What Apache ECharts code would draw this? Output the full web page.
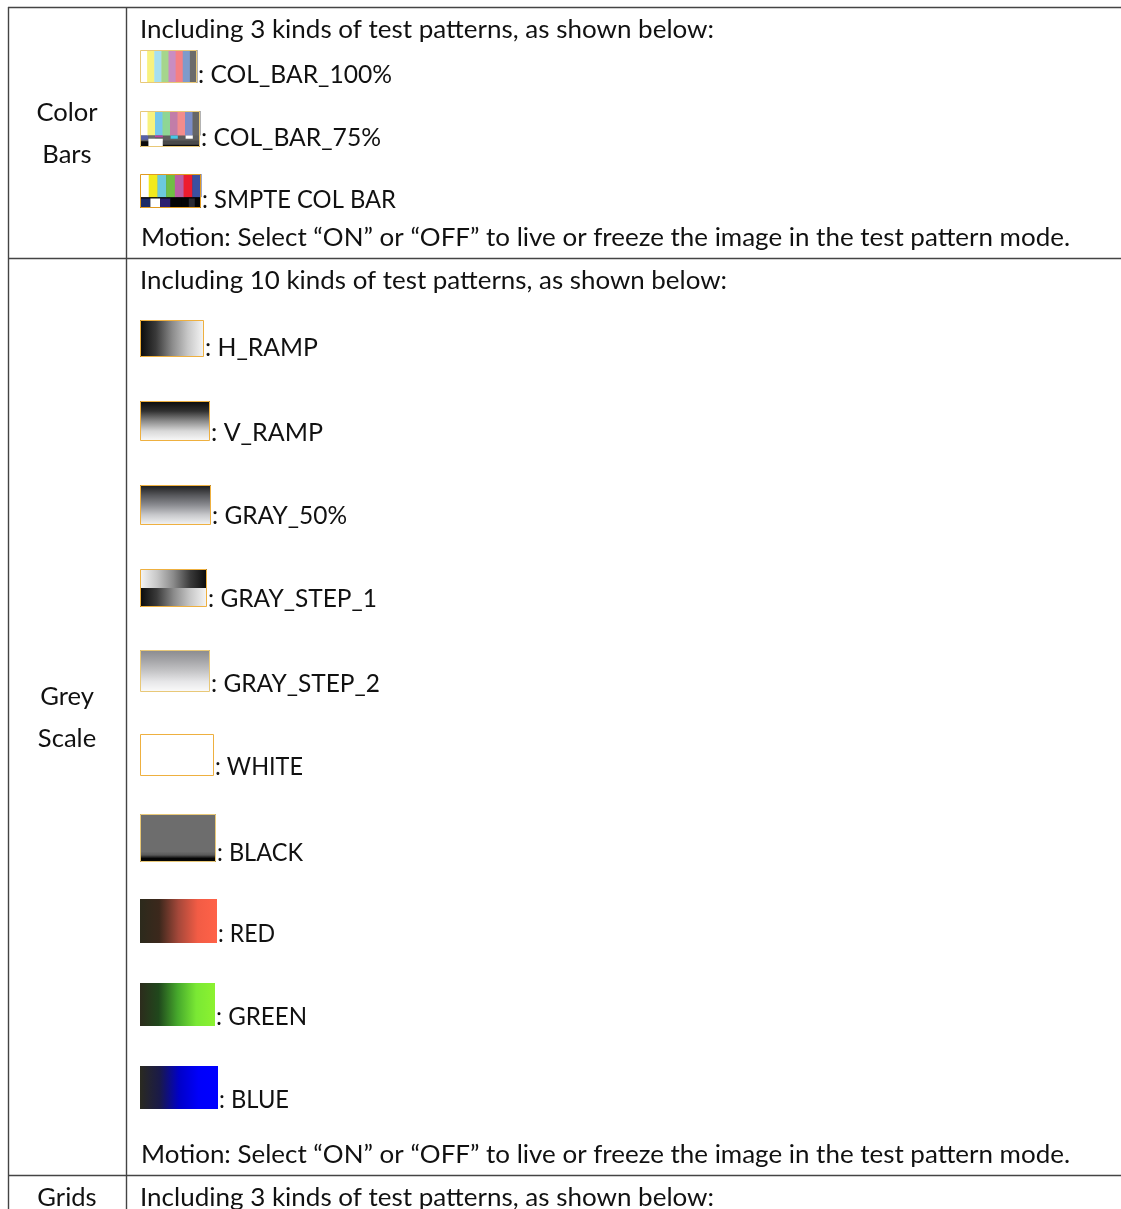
<!DOCTYPE html>
<html><head><meta charset="utf-8">
<style>html,body{margin:0;padding:0;background:#fff}#c{width:1121px;height:1209px}</style>
<script src="https://cdn.jsdelivr.net/npm/echarts@6/dist/echarts.min.js"></script></head>
<body><div id="c"></div>
<script>
// Text content
const rowNames = [['Color',113],['Bars',155],['Grey',697],['Scale',739],['Grids',1198]];
const introTexts = [['Including 3 kinds of test patterns, as shown below:',30,714],['Including 10 kinds of test patterns, as shown below:',281,727],['Including 3 kinds of test patterns, as shown below:',1198,714]];
const motionText = 'Motion: Select “ON” or “OFF” to live or freeze the image in the test pattern mode.';
const motionRows = [238,1155];
const patternNames = ['COL_BAR_100%','COL_BAR_75%','SMPTE COL BAR','H_RAMP','V_RAMP','GRAY_50%','GRAY_STEP_1','GRAY_STEP_2','WHITE','BLACK','RED','GREEN','BLUE'];
// Table rules
const hRules = [7,258,1175];
const vRules = [8,126];
// Swatch geometry: [right edge, top, bottom, label y, label right edge]
const swatchBoxes = [[197,50,83,75,392],[200,111,147,138,381],[201,174,208,200,396],[204,320,357,348,318],[210,401,441,433,323],[211,485,525,516,347],[207,569,607,599,377],[210,650,692,684,380],[214,734,776,767,303],[216,814,862,853,303],[217,899,943,934,275],[215,983,1026,1017,307],[218,1066,1109,1100,289]];
// Colours
const bars100 = ['#ffffff','#f8f27e','#a6dff0','#a5d68c','#c98dc2','#f58084','#7f9bcb','#6b6b6b'];
const bars75 = ['#ffffff','#f8f27e','#74c6ec','#8ed694','#c27da8','#f38c8c','#7c8dc8','#666666'];
const barsSmpte = ['#ffffff','#f2ea1c','#6cc9dc','#6fbe44','#b95ea4','#ed1c2e','#3c50a0'];
const smpteLow = ['#1c2a66','#ffffff','#2c1f70','#050505','#050505','#2a2a33','#050505'];
const rampDarkLight = ['#0a0a0a','#3a3a3a','#8a8a8a','#c8c8c8','#f6f6f6'];
const rampV = ['#0a0a0a','#303030','#8a8a8a','#d8d8d8','#fafafa'];
const ramp50 = ['#1a1a1a','#55565a','#8a8b90','#c8c9cc','#f5f5f5'];
const rampStep2 = ['#8a8a8e','#a5a5a8','#c4c4c6','#e6e6e8','#fbfbfb'];
const redRamp = ['#2c2a1c','#3c281c','#a5483a','#f25c45','#ff6248'];
const greenRamp = ['#2c2c1c','#20481c','#46a82c','#7ae834','#8cf230'];
const blueRamp = ['#2a2a20','#1a1a48','#0000c8','#0000fa','#0000ff'];

const X0 = 140, FONT = 'Lato', SIZE = 24.6, INK = '#111';
const measure = document.createElement('canvas').getContext('2d');
measure.font = SIZE+'px '+FONT;
const g = [];
function txt(s,x,y,align,scaleX){g.push({type:'text',silent:true,x,y,scaleX:scaleX||1,style:{text:s,fill:INK,font:SIZE+'px '+FONT,textAlign:align||'left',textVerticalAlign:'middle'}});}
function fit(s,x,right,y){txt(s,x,y,'left',(right-x)/measure.measureText(s).width);}
function rect(x,y,w,h,fill){g.push({type:'rect',silent:true,shape:{x,y,width:w,height:h},style:{fill}});}
function grad(cols,horizontal){return new echarts.graphic.LinearGradient(0,0,horizontal?1:0,horizontal?0:1,cols.map((c,i)=>({offset:i/(cols.length-1),color:c})));}
function frame(x,y,w,h,color){g.push({type:'rect',silent:true,z:5,shape:{x:x+.5,y:y+.5,width:w-1,height:h-1},style:{fill:'none',stroke:color,lineWidth:1}});}
function stripes(cols,x,y,w,h){const n=cols.length;cols.forEach((c,i)=>rect(x+w*i/n,y,w/n+.5,h,c));}

// swatches
swatchBoxes.forEach((b,i)=>{
  const x=X0,y=b[1],w=b[0]-X0,h=b[2]-b[1];
  switch(i){
   case 0: stripes(bars100,x,y,w,h); break;
   case 1:
     rect(x,y,w,h,'#5e5e5e');
     stripes(bars75,x,y,w,h*0.68);
     rect(x,y+h*0.68,w*0.14,h*0.12,'#5560a8');
     rect(x+w*0.14,y+h*0.68,w*0.11,h*0.1,'#6a6a6a');
     rect(x+w*0.25,y+h*0.68,w*0.13,h*0.05,'#c040a0');
     rect(x+w*0.51,y+h*0.68,w*0.12,h*0.09,'#46c8e8');
     rect(x+w*0.76,y+h*0.68,w*0.12,h*0.09,'#ffffff');
     rect(x+w*0.38,y+h*0.82,w*0.62,h*0.12,'#4a4a4a');
     rect(x,y+h*0.84,w*0.38,h*0.16,'#0c0c0c');
     rect(x+w*0.38,y+h*0.94,w*0.62,h*0.06,'#0c0c0c');
     rect(x+w*0.14,y+h*0.77,w*0.24,h*0.23,'#ffffff');
     break;
   case 2:
     rect(x,y,w,h,'#050505');
     stripes(barsSmpte,x,y,w,h*0.68);
     smpteLow.forEach((c,k)=>rect(x+w*[0,.17,.33,.5,.68,.8,.9][k],y+h*0.72,w*[.17,.16,.17,.18,.12,.1,.1][k],h*0.28,c));
     frame(x,y,w,h,'#e09a20');
     break;
   case 3: rect(x,y,w,h,grad(rampDarkLight,true)); break;
   case 4: rect(x,y,w,h,grad(rampV,false)); break;
   case 5: rect(x,y,w,h,grad(ramp50,false)); break;
   case 6:
     rect(x,y,w,h/2,grad(rampDarkLight.slice().reverse(),true));
     rect(x,y+h/2,w,h/2,grad(rampDarkLight,true));
     break;
   case 7: rect(x,y,w,h,grad(rampStep2,false)); break;
   case 8: rect(x,y,w,h,'#ffffff'); break;
   case 9:
     rect(x,y,w,h,'#6d6d6d');
     rect(x,y+h*0.78,w,h*0.22,grad(['#6d6d6d','#5a5a5a','#050505','#050505'],false));
     break;
   case 10: rect(x,y,w,h,grad(redRamp,true)); break;
   case 11: rect(x,y,w,h,grad(greenRamp,true)); break;
   case 12: rect(x,y,w,h,grad(blueRamp,true)); break;
  }
  if(i<10&&i!==2) frame(x,y,w,h,i===7||i===9||i===0||i===1?'#e8c878':'#eeb040');
  fit(': '+patternNames[i],b[0]+1,b[4],b[3]);
});
rowNames.forEach(r=>txt(r[0],67,r[1],'center',1.04));
introTexts.forEach(r=>fit(r[0],X0,r[2],r[1]));
motionRows.forEach(y=>fit(motionText,141,1070,y));
// rules
hRules.forEach(y=>g.push({type:'line',silent:true,shape:{x1:vRules[0],y1:y+.5,x2:1121,y2:y+.5},style:{stroke:'#444',lineWidth:1.4}}));
vRules.forEach(x=>g.push({type:'line',silent:true,shape:{x1:x+.5,y1:hRules[0],x2:x+.5,y2:1209},style:{stroke:'#444',lineWidth:1.4}}));

const chart=echarts.init(document.getElementById('c'));
chart.setOption({animation:false,backgroundColor:'#fff',graphic:{elements:g}});
</script></body></html>
